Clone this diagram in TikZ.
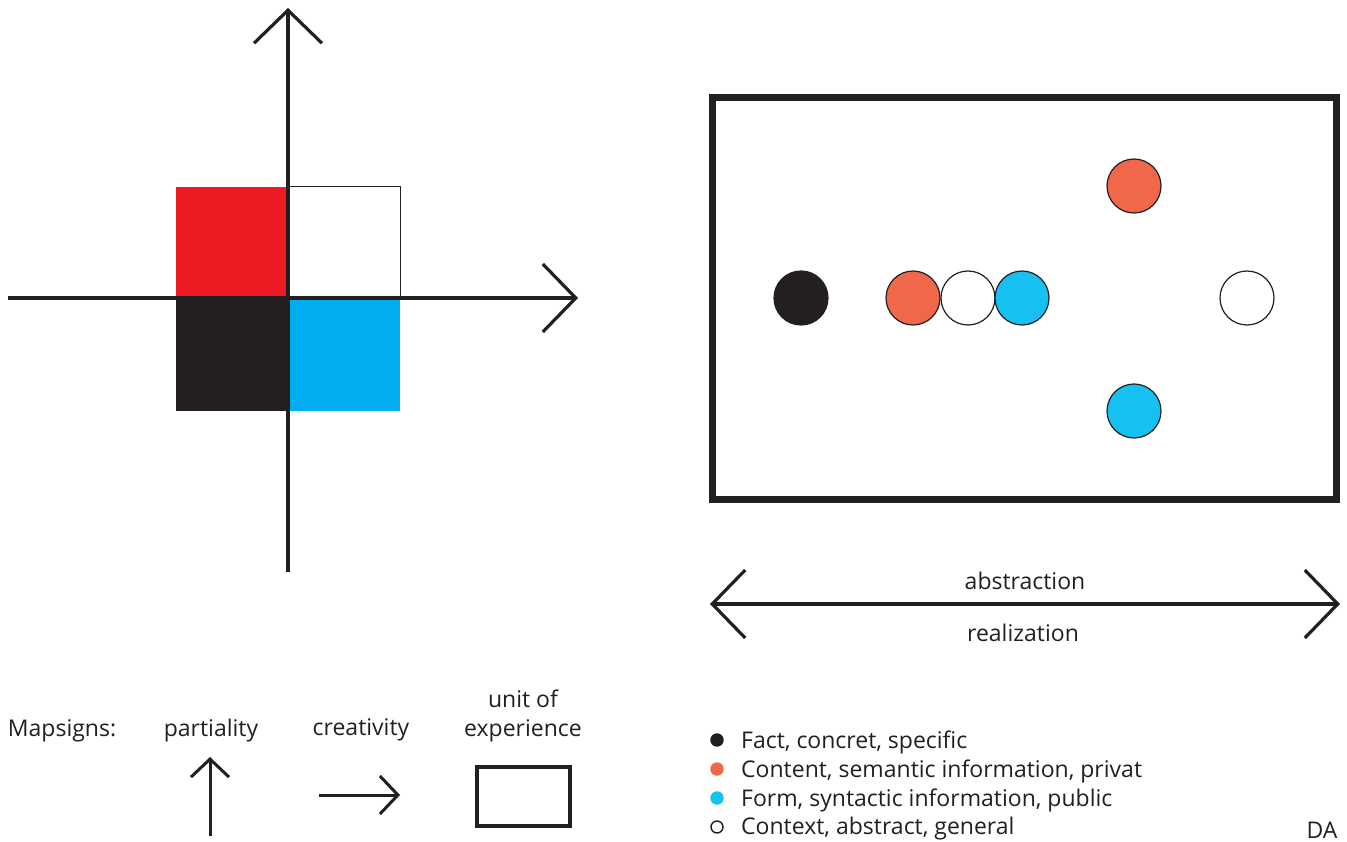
\documentclass[tikz,border=0pt]{standalone}
\usepackage{fontspec}
\setmainfont{Open Sans}
\usetikzlibrary{arrows.meta}

\definecolor{ink}{HTML}{231F20}
\definecolor{sqred}{HTML}{ED1C24}
\definecolor{sqblue}{HTML}{00AEEF}
\definecolor{content}{HTML}{F0674A}
\definecolor{form}{HTML}{16C0F0}

\begin{document}
\begin{tikzpicture}[
    x=1pt, y=-1pt,
    barb/.tip={Straight Barb[length=33pt, width=68pt, line cap=butt]},
    axis/.style={draw=ink, line width=3.2pt, -barb},
    twoway/.style={draw=ink, line width=3.2pt, barb-barb},
    smallarrow/.style={draw=ink, line width=3pt,
      -{Straight Barb[length=18pt, width=38pt, line cap=butt]}},
    dot/.style={circle, draw=ink, line width=1.2pt, minimum size=54pt,
      inner sep=0pt},
    bullet/.style={circle, draw=ink, line width=1.4pt, minimum size=12pt,
      inner sep=0pt},
    txt/.style={font=\fontsize{23}{29.5}\selectfont, text=ink, inner sep=0pt,
      yshift=-2pt},
  ]
    \useasboundingbox (0,0) rectangle (1347,842);

    % quadrants
    \fill[sqred] (176,187) rectangle (288,298);
    \draw[ink, line width=1pt] (288,187) rectangle (400,298);
    \fill[ink] (176,298) rectangle (288,411);
    \fill[sqblue] (288,298) rectangle (400,411);

    \coordinate (ybot) at (288,572);
    \coordinate (ytop) at (288,8);
    \coordinate (xleft) at (8,298);
    \coordinate (xright) at (578,298);
    \draw[axis] (ybot) -- (ytop);
    \draw[axis] (xleft) -- (xright);

    % unit of experience
    \draw[ink, line width=7pt] (712,98) rectangle (1336,499);
    \node[dot, fill=ink] (fact) at (801,298) {};
    \node[dot, fill=content] (cont1) at (913,298) {};
    \node[dot, fill=white] (ctx1) at (968,298) {};
    \node[dot, fill=form] (form1) at (1022,298) {};
    \node[dot, fill=content] (cont2) at (1134,186) {};
    \node[dot, fill=form] (form2) at (1134,411) {};
    \node[dot, fill=white] (ctx2) at (1247,298) {};

    \coordinate (aleft) at (710,604);
    \coordinate (aright) at (1340,604);
    \draw[twoway] (aleft) -- (aright);
    \node[txt] (abstr) at (1025,579) {abstraction};
    \node[txt] (real) at (1023,631) {realization};

    % mapsigns
    \node[txt] (maps) at (62,729) {Mapsigns:};
    \node[txt] (part) at (211,729) {partiality};
    \node[txt] (crea) at (361,728) {creativity};
    \node[txt, align=center] (unit) at (523,714) {unit of\\experience};

    \coordinate (pbot) at (210,836);
    \coordinate (ptop) at (210,757);
    \draw[smallarrow] (pbot) -- (ptop);
    \coordinate (cleft) at (319,795);
    \coordinate (cright) at (400,795);
    \draw[smallarrow] (cleft) -- (cright);
    \draw[ink, line width=4pt] (477,767) rectangle (570,826);

    % legend
    \node[bullet, fill=ink] (b1) at (717,740) {};
    \node[bullet, draw=content, fill=content] (b2) at (717,769) {};
    \node[bullet, draw=form, fill=form] (b3) at (717,798) {};
    \node[bullet, fill=white] (b4) at (717,827) {};
    \node[txt, anchor=west] (l1) at (741,740) {Fact, concret, specific};
    \node[txt, anchor=west] (l2) at (741,769) {Content, semantic information, privat};
    \node[txt, anchor=west] (l3) at (741,798) {Form, syntactic information, public};
    \node[txt, anchor=west] (l4) at (741,827) {Context, abstract, general};
    \node[txt] (da) at (1322,828) {DA};
  \end{tikzpicture}
\end{document}
